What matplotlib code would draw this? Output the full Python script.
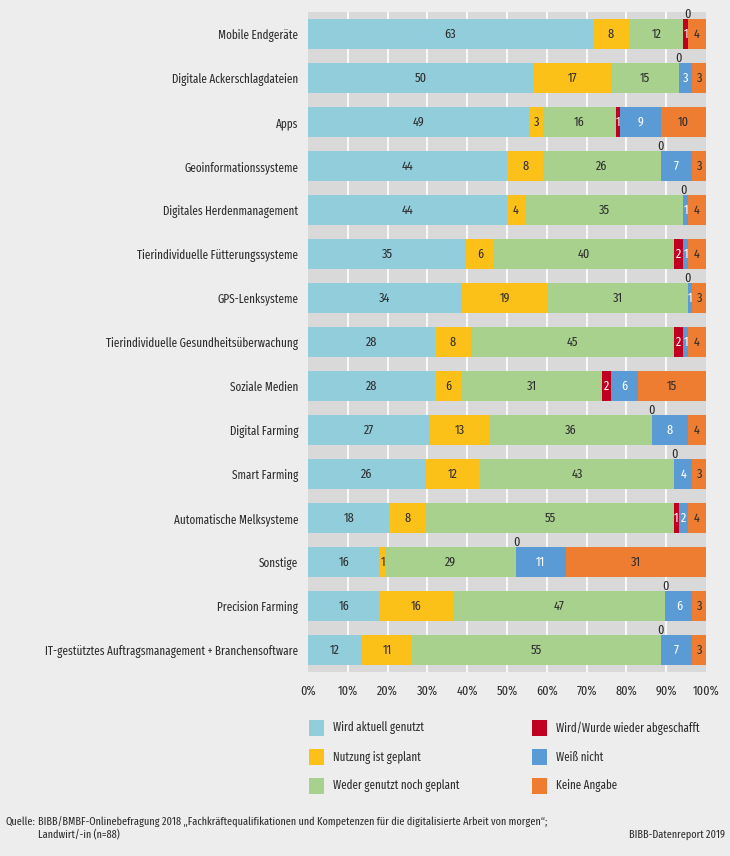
import matplotlib
matplotlib.use("Agg")
import matplotlib.pyplot as plt
from matplotlib.patches import Rectangle
import numpy as np

plt.rcParams['font.family'] = ['Fira Sans Extra Condensed', 'DejaVu Sans']

# Daten (Anzahl Nennungen, n=88)
categories = [
    "Mobile Endgeräte",
    "Digitale Ackerschlagdateien",
    "Apps",
    "Geoinformationssysteme",
    "Digitales Herdenmanagement",
    "Tierindividuelle Fütterungssysteme",
    "GPS-Lenksysteme",
    "Tierindividuelle Gesundheitsüberwachung",
    "Soziale Medien",
    "Digital Farming",
    "Smart Farming",
    "Automatische Melksysteme",
    "Sonstige",
    "Precision Farming",
    "IT-gestütztes Auftragsmanagement + Branchensoftware",
]
genutzt = [63, 50, 49, 44, 44, 35, 34, 28, 28, 27, 26, 18, 16, 16, 12]
geplant = [8, 17, 3, 8, 4, 6, 19, 8, 6, 13, 12, 8, 1, 16, 11]
weder = [12, 15, 16, 26, 35, 40, 31, 45, 31, 36, 43, 55, 29, 47, 55]
abgeschafft = [1, 0, 1, 0, 0, 2, 0, 2, 2, 0, 0, 1, 0, 0, 0]
weiss_nicht = [0, 3, 9, 7, 1, 1, 1, 1, 6, 8, 4, 2, 11, 6, 7]
keine_angabe = [4, 3, 10, 3, 4, 4, 3, 4, 15, 4, 3, 4, 31, 3, 3]
n_total = 88

series_names = ["Wird aktuell genutzt", "Nutzung ist geplant", "Weder genutzt noch geplant",
                "Wird/Wurde wieder abgeschafft", "Weiß nicht", "Keine Angabe"]
colors = ["#92cddc", "#fcc118", "#a9d18e", "#c00020", "#5b9bd5", "#ee7d31"]
text_colors = ["#2e2e2e", "#2e2e2e", "#2e2e2e", "white", "white", "#2e2e2e"]
xtick_labels = ["0%", "10%", "20%", "30%", "40%", "50%", "60%", "70%", "80%", "90%", "100%"]

series = [genutzt, geplant, weder, abgeschafft, weiss_nicht, keine_angabe]

fs = 9.5       # Zahlen und Achse
fs_cat = 8.7   # Kategorien
fs_leg = 8.6   # Legende
fs_src = 8.0   # Quelle
txt = "#2e2e2e"

fig = plt.figure(figsize=(7.3, 8.56), dpi=100)
fig.patch.set_facecolor("#ededee")
ax = fig.add_axes([308 / 730, 1 - 672 / 856, 398 / 730, 660 / 856])
ax.set_facecolor("#d9d9d9")

y = np.arange(len(categories))
bar_h = 0.66
left = np.zeros(len(categories))
for vals, col, tcol in zip(series, colors, text_colors):
    pct = np.array(vals) / n_total * 100
    ax.barh(y, pct, left=left, height=bar_h, color=col, zorder=3)
    for i, (v, p, l) in enumerate(zip(vals, pct, left)):
        if v == 0:
            ax.text(l, i - bar_h / 2 + 0.02, "0", ha="center", va="bottom",
                    fontsize=fs, color=txt, zorder=4)
        else:
            ax.text(l + p / 2, i, str(v), ha="center", va="center",
                    fontsize=fs, color=tcol, zorder=4)
    left = left + pct

ax.set_xlim(0, 100)
ax.set_ylim(len(categories) - 0.5, -0.5)
ax.set_xticks(np.arange(0, 101, 10))
ax.set_xticklabels(xtick_labels, fontsize=fs, color=txt)
ax.set_yticks(y)
ax.set_yticklabels(categories, fontsize=fs_cat, color=txt)
ax.tick_params(axis="both", length=0)
ax.tick_params(axis="y", pad=7)
ax.tick_params(axis="x", pad=9)
for x in range(10, 100, 10):
    ax.axvline(x, color="white", linewidth=1.2, zorder=1)
for s in ax.spines.values():
    s.set_visible(False)

# Legende
leg_x = [309, 532]
leg_y = [728, 757, 786]
for k, (name, col) in enumerate(zip(series_names, colors)):
    cx = leg_x[k // 3]
    cy = leg_y[k % 3]
    fig.add_artist(Rectangle((cx / 730, 1 - (cy + 8) / 856), 15 / 730, 16 / 856,
                             transform=fig.transFigure, facecolor=col, edgecolor="none"))
    fig.text((cx + 24) / 730, 1 - cy / 856, name, ha="left", va="center",
             fontsize=fs_leg, color=txt)

fig.text(5 / 730, 1 - 822 / 856, "Quelle:", ha="left", va="center", fontsize=fs_src, color=txt)
fig.text(38 / 730, 1 - 822 / 856,
         "BIBB/BMBF-Onlinebefragung 2018 „Fachkräftequalifikationen und Kompetenzen für die digitalisierte Arbeit von morgen“;",
         ha="left", va="center", fontsize=fs_src, color=txt)
fig.text(38 / 730, 1 - 835 / 856, "Landwirt/-in (n=88)", ha="left", va="center",
         fontsize=fs_src, color=txt)
fig.text(725 / 730, 1 - 835 / 856, "BIBB-Datenreport 2019", ha="right", va="center",
         fontsize=fs_src, color=txt)

fig.savefig("out.png", dpi=100, facecolor=fig.get_facecolor())
